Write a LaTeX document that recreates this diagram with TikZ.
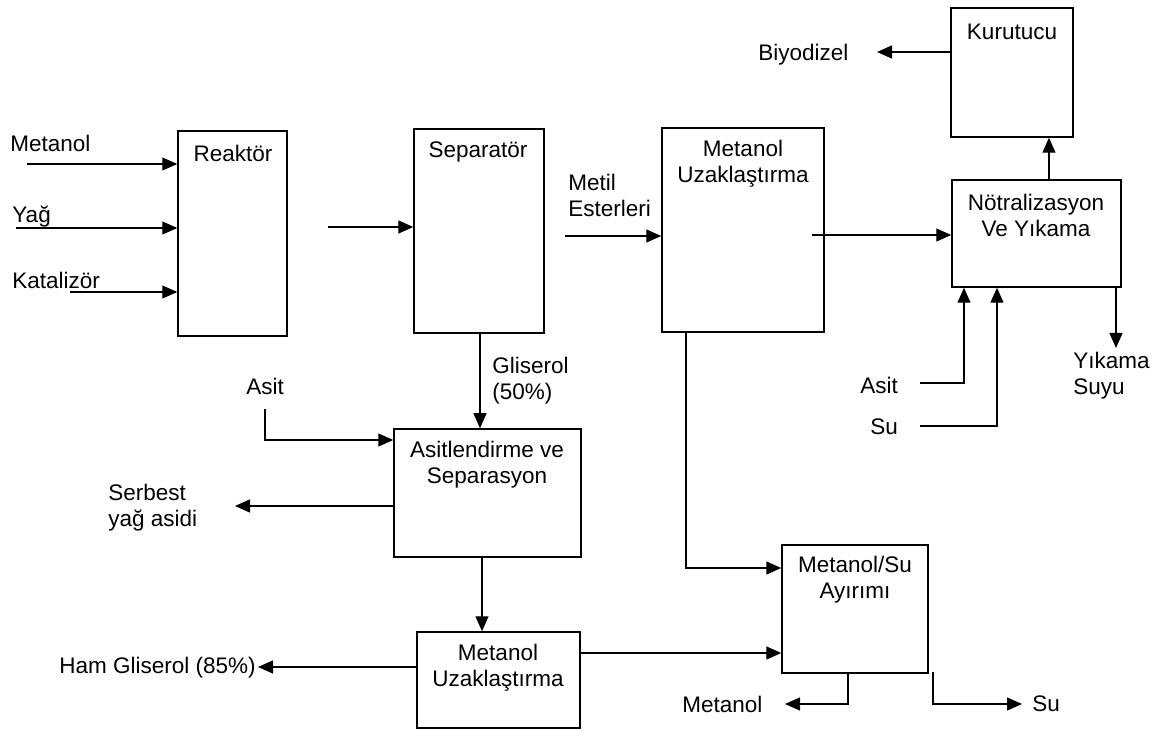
\documentclass[tikz,border=0pt]{standalone}
\usepackage{fontspec}
\setmainfont{Liberation Sans}
\usetikzlibrary{arrows.meta,fit,calc}
\tikzset{
  box/.style={draw, line width=0.75pt, inner sep=0pt},
  txt/.style={inner sep=0pt, font=\fontsize{11.25pt}{13pt}\selectfont},
  arr/.style={line width=0.65pt, -{Triangle[length=7.5pt,width=6.5pt]}},
  ln/.style={line width=0.65pt}
}
\begin{document}
\begin{tikzpicture}[x=0.5pt,y=-0.5pt]
\useasboundingbox (0,0) rectangle (1160,731);
% boxes
\node[box, fit={(178,131) (287,336)}] (reak) {};
\node[box, fit={(414,129) (544,333)}] (sep) {};
\node[box, fit={(662,128) (824,332)}] (mu1) {};
\node[box, fit={(951,8) (1073,137)}] (kur) {};
\node[box, fit={(952,180) (1121,287)}] (notr) {};
\node[box, fit={(394,429) (581,557)}] (asit) {};
\node[box, fit={(417,632) (580,728)}] (mu2) {};
\node[box, fit={(782,545) (928,673)}] (ayr) {};
% box texts
\node[txt] (treak) at (233,153) {Reaktör};
\node[txt] (tsep) at (478,152) {Separatör};
\node[txt, align=center] (tmu1) at (743,164) {Metanol\\Uzaklaştırma};
\node[txt] (tkur) at (1012,32) {Kurutucu};
\node[txt, align=center] (tnotr) at (1036,215) {Nötralizasyon\\Ve Yıkama};
\node[txt, align=center] (tasit) at (487,465) {Asitlendirme ve\\Separasyon};
\node[txt, align=center] (tmu2) at (498,668) {Metanol\\Uzaklaştırma};
\node[txt, align=center] (tayr) at (855,580) {Metanol/Su\\Ayırımı};
% labels
\node[txt, anchor=west] (lmet) at (10,143) {Metanol};
\node[txt, anchor=west] (lyag) at (12,217) {Yağ};
\node[txt, anchor=west] (lkat) at (12,280) {Katalizör};
\node[txt, anchor=west, align=left] (lmetil) at (568,195) {Metil\\Esterleri};
\node[txt, anchor=west, align=left] (lglis) at (492,381) {Gliserol\\(50\%)};
\node[txt] (lasit1) at (265,386) {Asit};
\node[txt, anchor=west, align=left] (lserb) at (108,508) {Serbest\\yağ asidi};
\node[txt, anchor=east] (lham) at (256,668) {Ham Gliserol (85\%)};
\node[txt, anchor=west] (lbiyo) at (758,55) {Biyodizel};
\node[txt, anchor=west] (lasit2) at (860,385) {Asit};
\node[txt, anchor=west] (lsu1) at (870,427) {Su};
\node[txt, anchor=west, align=left] (lyik) at (1073,376) {Yıkama\\Suyu};
\node[txt, anchor=west] (lmet2) at (682,704) {Metanol};
\node[txt, anchor=west] (lsu2) at (1032,704) {Su};
% free ends
\coordinate (cm) at (27,164);
\coordinate (cy) at (16,228);
\coordinate (ck) at (70,292);
\coordinate (cs) at (328,227);
\coordinate (ce) at (565,236);
\coordinate (co) at (812,235);
\coordinate (cku) at (1049,0);
\coordinate (cbiyo) at (877,52);
\coordinate (cgl) at (480,0);
\coordinate (ca1) at (265,409);
\coordinate (ca1b) at (265,440);
\coordinate (cserb) at (235,506);
\coordinate (cdown) at (482,0);
\coordinate (cham) at (258,667);
\coordinate (cmu2) at (0,653);
\coordinate (cmu1) at (686,568);
\coordinate (cmetb) at (848,704);
\coordinate (cmet) at (785,704);
\coordinate (csua) at (933,672);
\coordinate (csub) at (933,704);
\coordinate (csu) at (1022,704);
\coordinate (ca2) at (920,383);
\coordinate (ca2b) at (964,383);
\coordinate (cs2) at (920,426);
\coordinate (cs2b) at (997,426);
\coordinate (cyik) at (1116,348);
% connectors
\draw[arr] (cm) -- (cm -| reak.west);
\draw[arr] (cy) -- (cy -| reak.west);
\draw[arr] (ck) -- (ck -| reak.west);
\draw[arr] (cs) -- (cs -| sep.west);
\draw[arr] (ce) -- (ce -| mu1.west);
\draw[arr] (co) -- (co -| notr.west);
\draw[arr] (cku |- notr.north) -- (cku |- kur.south);
\draw[arr] (cbiyo -| kur.west) -- (cbiyo);
\draw[arr] (cgl |- sep.south) -- (cgl |- asit.north);
\draw[arr] (ca1) -- (ca1b) -- (ca1b -| asit.west);
\draw[arr] (cserb -| asit.west) -- (cserb);
\draw[arr] (cdown |- asit.south) -- (cdown |- mu2.north);
\draw[arr] (cham -| mu2.west) -- (cham);
\draw[arr] (cmu2 -| mu2.east) -- (cmu2 -| ayr.west);
\draw[arr] (cmu1 |- mu1.south) -- (cmu1) -- (cmu1 -| ayr.west);
\draw[arr] (cmetb |- ayr.south) -- (cmetb) -- (cmet);
\draw[arr] (csua) -- (csub) -- (csu);
\draw[arr] (ca2) -- (ca2b) -- (ca2b |- notr.south);
\draw[arr] (cs2) -- (cs2b) -- (cs2b |- notr.south);
\draw[arr] (cyik |- notr.south) -- (cyik);
\end{tikzpicture}
\end{document}
